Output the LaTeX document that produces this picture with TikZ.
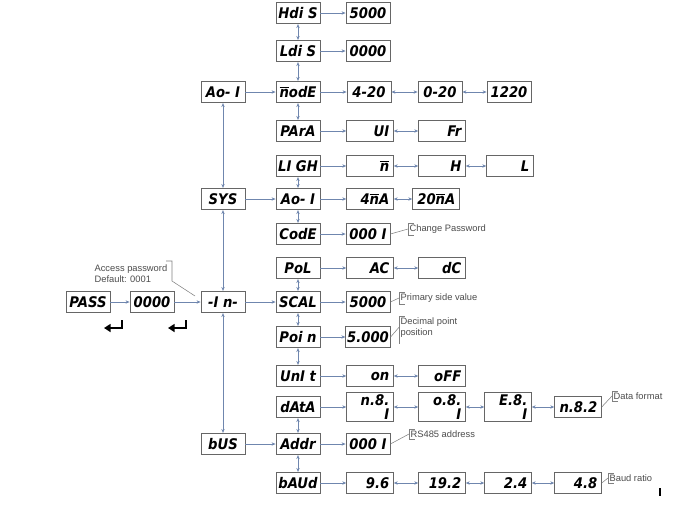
\documentclass[tikz,border=0pt]{standalone}
\usepackage{fontspec}
\setmainfont{Liberation Sans}
\newfontfamily\segfont{DejaVu Sans Condensed}
\usetikzlibrary{arrows.meta}
\definecolor{ln}{HTML}{6F86AE}
\newcommand\nbar{\ensuremath{\overline{\mbox{n}}}}
\begin{document}
\begin{tikzpicture}[x=0.75pt,y=-0.75pt,
 seg/.style={draw=black!60,line width=0.6pt,minimum width=33pt,minimum height=16pt,inner sep=1pt,font=\segfont\bfseries\itshape\fontsize{11}{11}\selectfont,align=right},
 segw/.style={seg,minimum width=35pt,text width=29pt},
 ar/.style={draw=ln,line width=0.6pt,-{Stealth[length=3pt,width=2.5pt]}},
 dar/.style={draw=ln,line width=0.6pt,{Stealth[length=3pt,width=2.5pt]}-{Stealth[length=3pt,width=2.5pt]}},
 note/.style={font=\fontsize{7}{8}\selectfont,text=black!70,align=left,inner sep=1pt},
 cl/.style={draw=black!50,line width=0.4pt}]
\useasboundingbox[fill=white] (0,0) rectangle (682,508);
% main column
\node[seg] (hdis) at (298,13) {Hdi S};
\node[seg] (ldis) at (298,51) {Ldi S};
\node[seg] (mode) at (298,92) {\nbar odE};
\node[seg] (para) at (298,131) {PArA};
\node[seg] (ligh) at (298,166) {LI GH};
\node[seg] (ao1) at (298,199) {Ao- I};
\node[seg] (code) at (298,234) {CodE};
\node[seg] (pol) at (298,268) {PoL};
\node[seg] (scal) at (298,302) {SCAL};
\node[seg] (poin) at (298,337) {Poi n};
\node[seg] (unit) at (298,376) {UnI t};
\node[seg] (data) at (298,407) {dAtA};
\node[seg] (addr) at (298,444) {Addr};
\node[seg] (baud) at (298,483) {bAUd};
% left column
\node[seg] (aoA) at (223,92) {Ao- I};
\node[seg] (sys) at (223,199) {SYS};
\node[seg] (in) at (223,302) {-I n-};
\node[seg] (bus) at (223,444) {bUS};
\node[seg] (pass) at (88,302) {PASS};
\node[seg] (pw) at (152,302) {0000};
% values
\node[seg] (h1) at (368,13) {5000};
\node[seg] (l1) at (368,51) {0000};
\node[seg] (m1) at (369,92) {4-20};
\node[seg] (m2) at (440,92) {0-20};
\node[seg] (m3) at (509,92) {1220};
\node[segw] (p1) at (370,131) {UI};
\node[segw] (p2) at (442,131) {Fr};
\node[segw] (g1) at (370,166) {\nbar};
\node[segw] (g2) at (442,166) {H};
\node[segw] (g3) at (510,166) {L};
\node[segw] (a1) at (370,199) {4\nbar A};
\node[segw] (a2) at (436,199) {20\nbar A};
\node[seg] (c1) at (368,234) {000 I};
\node[segw] (o1) at (370,268) {AC};
\node[segw] (o2) at (442,268) {dC};
\node[seg] (s1) at (368,302) {5000};
\node[seg] (i1) at (368,337) {5.000};
\node[segw] (u1) at (370,376) {on};
\node[segw] (u2) at (442,376) {oFF};
\node[segw] (d1) at (370,407) {n.8. I};
\node[segw] (d2) at (442,407) {o.8. I};
\node[segw] (d3) at (508,407) {E.8. I};
\node[segw] (d4) at (578,407) {n.8.2};
\node[seg] (r1) at (368,444) {000 I};
\node[segw] (b1) at (370,483) {9.6};
\node[segw] (b2) at (442,483) {19.2};
\node[segw] (b3) at (508,483) {2.4};
\node[segw] (b4) at (578,483) {4.8};
% horizontal arrows
\foreach \a/\b in {hdis/h1,ldis/l1,mode/m1,para/p1,ligh/g1,ao1/a1,code/c1,pol/o1,scal/s1,poin/i1,unit/u1,data/d1,addr/r1,baud/b1,aoA/mode,sys/ao1,in/scal,bus/addr,pass/pw,pw/in}
  \draw[ar] (\a) -- (\b);
\foreach \a/\b in {m1/m2,m2/m3,p1/p2,g1/g2,g2/g3,a1/a2,o1/o2,u1/u2,d1/d2,d2/d3,d3/d4,b1/b2,b2/b3,b3/b4}
  \draw[dar] (\a) -- (\b);
% vertical arrows
\foreach \a/\b in {hdis/ldis,ldis/mode,mode/para,ligh/ao1,ao1/code,pol/scal,scal/poin,poin/unit,data/addr,addr/baud,in/sys,sys/aoA,in/bus}
  \draw[dar] (\a) -- (\b);
% enter arrows
\foreach \x/\n in {122/e1,186/e2}{
  \coordinate (\n a) at (\x,320); \coordinate (\n b) at (\x,328); \coordinate (\n c) at (\x-18,328);
  \draw[line width=2pt,-{Triangle[length=5pt,width=6pt]}] (\n a) -- (\n b) -- (\n c);}
% notes
\node[note,anchor=north west] (acc) at (93,263) {Access password\\Default: 0001};
\coordinate (accA) at (166,261); \coordinate (accB) at (172,261); \coordinate (accC) at (172,281); \coordinate (accD) at (195,296);
\draw[cl] (accA) -- (accB) -- (accC) -- (accD);
\node[note,anchor=west] (n1) at (408,229) {Change Password};
\node[note,anchor=west] (n2) at (399,298) {Primary side value};
\node[note,anchor=north west] (n3) at (399,316) {Decimal point\\position};
\node[note,anchor=west] (n4) at (612,396) {Data format};
\node[note,anchor=west] (n5) at (409,434) {RS485 address};
\node[note,anchor=west] (n6) at (608,478) {Baud ratio};
\foreach \c/\n in {c1/n1,s1/n2,r1/n5,d4/n4,b4/n6}{
  \draw[cl] (\n.north west) -- (\n.south west);
  \draw[cl] (\c.east) -- (\n.west);
  \draw[cl] (\n.north west) -- ++(6,0) (\n.south west) -- ++(6,0);}
\draw[cl] (i1.east) -- (n3.west);
\draw[cl] (n3.north west) -- ++(0,28) (n3.north west) -- ++(6,0);
\node[inner sep=0,minimum width=1pt,minimum height=6pt,fill=black] (tick) at (660,492) {};
\end{tikzpicture}
\end{document}
